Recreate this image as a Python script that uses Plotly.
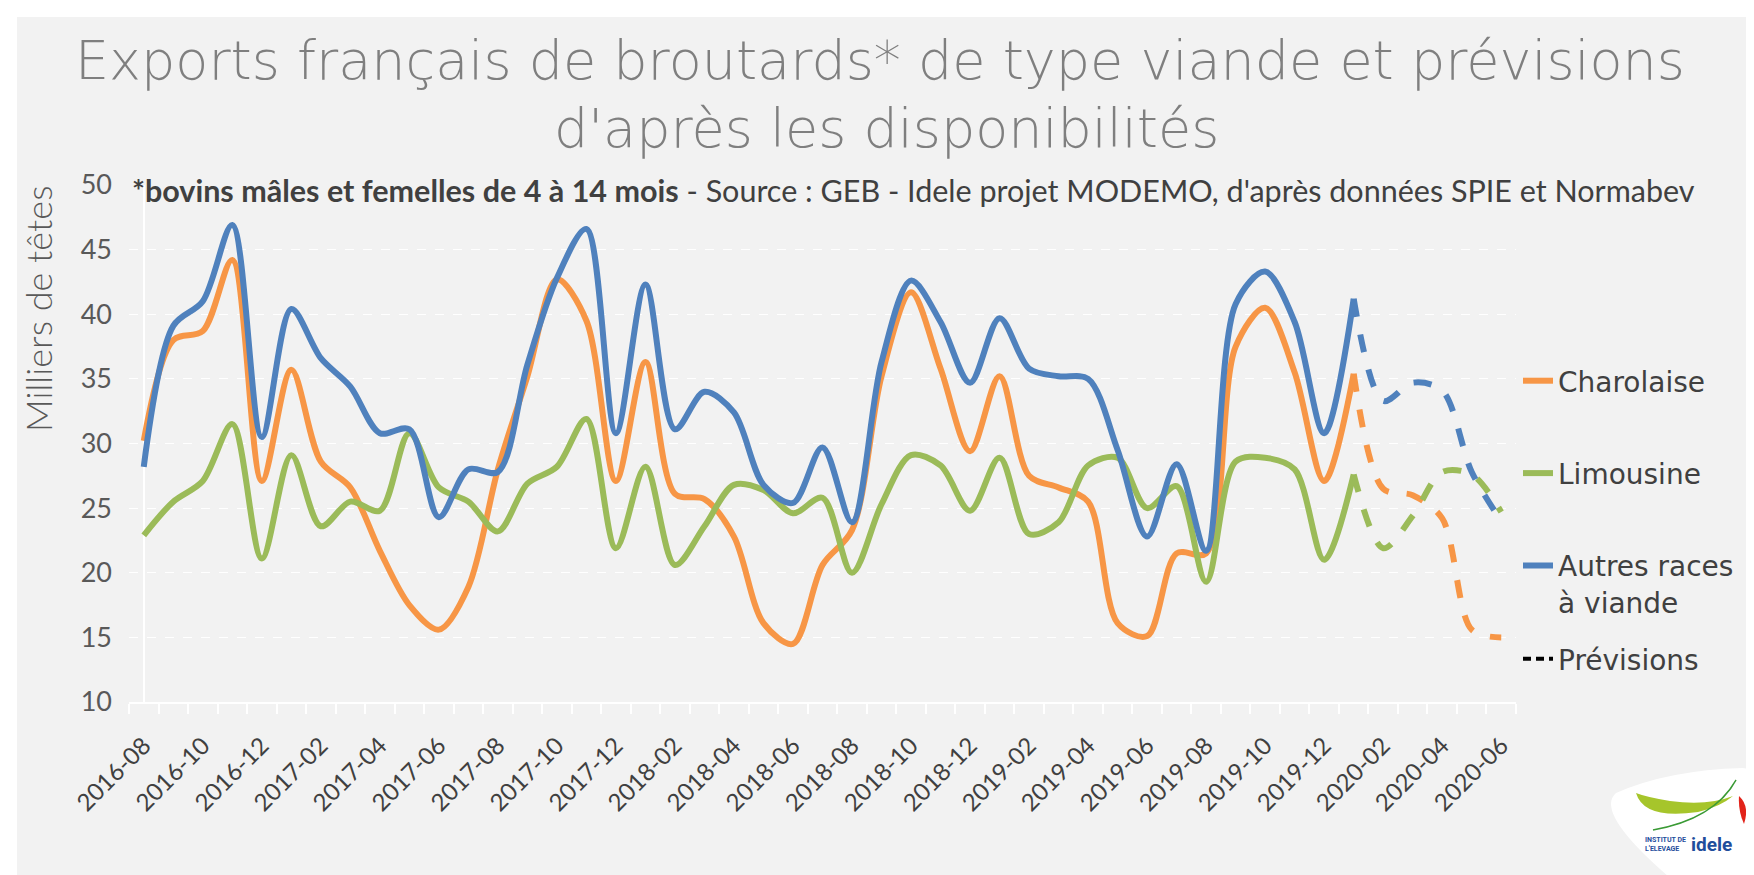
import plotly.graph_objects as go

# ---------------- data ----------------
months = ["2016-08","2016-09","2016-10","2016-11","2016-12",
          "2017-01","2017-02","2017-03","2017-04","2017-05","2017-06","2017-07","2017-08","2017-09","2017-10","2017-11","2017-12",
          "2018-01","2018-02","2018-03","2018-04","2018-05","2018-06","2018-07","2018-08","2018-09","2018-10","2018-11","2018-12",
          "2019-01","2019-02","2019-03","2019-04","2019-05","2019-06","2019-07","2019-08","2019-09","2019-10","2019-11","2019-12",
          "2020-01","2020-02","2020-03","2020-04","2020-05","2020-06"]

charolaise = [30.2, 38.0, 38.7, 44.2, 27.1, 35.7, 28.6, 26.6, 21.7, 17.5, 15.6, 18.9, 28.0, 35.2, 42.7, 39.5, 27.1,
              36.3, 26.1, 25.7, 22.8, 16.1, 14.5, 20.6, 23.3, 35.2, 41.7, 35.8, 29.4,
              35.2, 27.5, 26.6, 25.5, 16.1, 15.1, 21.5, 21.5, 37.5, 40.5, 35.5, 27.1,
              35.4, 26.5, 26.0, 24.2, 15.6, 15.0]
limousine = [22.9, 25.5, 27.1, 31.5, 21.1, 29.1, 23.6, 25.5, 24.8, 30.8, 26.6, 25.5, 23.2, 26.9, 28.2, 31.9, 21.9,
             28.2, 20.6, 23.6, 26.8, 26.4, 24.6, 25.8, 20.0, 25.3, 29.1, 28.3, 24.8,
             28.9, 23.0, 23.9, 28.3, 28.9, 25.0, 26.7, 19.3, 28.6, 28.9, 28.0, 21.0,
             27.6, 21.9, 24.4, 27.8, 27.6, 24.7]
autres = [28.2, 39.1, 41.0, 46.9, 30.5, 40.4, 36.6, 34.4, 30.8, 31.1, 24.3, 28.0, 27.8, 36.1, 42.8, 46.6, 30.8,
          42.3, 31.1, 34.0, 32.4, 26.8, 25.4, 29.7, 23.9, 36.3, 42.6, 39.4, 34.7,
          39.7, 35.8, 35.2, 35.0, 29.5, 22.8, 28.4, 21.7, 40.8, 43.3, 39.4, 30.8,
          41.2, 33.3, 34.7, 34.1, 27.8, 24.0]

series_names = ["Charolaise", "Limousine", "Autres races<br>à viande"]
forecast_label = "Prévisions"
first_forecast = "2020-01"   # forecasts start from this month (dashed)
tick_labels = months[::2]

# ---------------- styling ----------------
colors = ["#F79646", "#9BBB59", "#4F81BD"]
BG = "#F2F2F2"
W, H = 1754, 875
L, R, T, B = 121, 1508, 177, 694


def xp(px):
    return (px - L) / (R - L)


def yp(py):
    return (B - py) / (B - T)


idx = list(range(len(months)))
k = months.index(first_forecast)

fig = go.Figure()
for name, vals, col in zip(series_names, [charolaise, limousine, autres], colors):
    fig.add_trace(go.Scatter(
        x=idx[:k + 1], y=vals[:k + 1], mode="lines", name=name,
        line=dict(color=col, width=6, shape="spline", smoothing=0.9),
        legendgroup=name, showlegend=True, legend="legend",
        hoverinfo="skip"))
    fig.add_trace(go.Scatter(
        x=idx[k:], y=vals[k:], mode="lines", name=name + " (prévision)",
        line=dict(color=col, width=6, shape="spline", smoothing=0.9, dash="dash"),
        legendgroup=name, showlegend=False, hoverinfo="skip"))

fig.add_trace(go.Scatter(
    x=[None], y=[None], mode="lines", name=forecast_label,
    line=dict(color="black", width=4, dash="8px,5px"),
    showlegend=True, legend="legend2"))

LEG_FONT = dict(size=28, color="#404040", family="DejaVu Sans")
fig.update_layout(
    width=W, height=H,
    paper_bgcolor=BG, plot_bgcolor=BG,
    margin=dict(l=L, r=W - R, t=T, b=H - B),
    font=dict(family="Lato", color="#404040"),
    showlegend=True,
    legend=dict(x=xp(1510), xanchor="left", y=yp(348), yanchor="top",
                font=LEG_FONT, tracegroupgap=53, valign="top",
                bgcolor="rgba(0,0,0,0)"),
    legend2=dict(x=xp(1510), xanchor="left", y=yp(626), yanchor="top",
                 font=LEG_FONT, bgcolor="rgba(0,0,0,0)"),
)

fig.update_yaxes(range=[10, 50], dtick=5, tick0=10,
                 showgrid=True, gridcolor="white", griddash="dash", gridwidth=1,
                 zeroline=False, showline=False,
                 tickfont=dict(size=27, color="#595959", family="Lato"),
                 ticklabelstandoff=16)
fig.update_xaxes(range=[-0.5, len(months) - 0.5],
                 tickmode="array", tickvals=idx[::2], ticktext=tick_labels,
                 tickangle=-45, ticks="", showgrid=False,
                 showline=True, linecolor="white", linewidth=2,
                 tickfont=dict(size=24, color="#404040", family="Lato"),
                 ticklabelstandoff=18,
                 minor=dict(tickmode="array", tickvals=[i - 0.5 for i in range(len(months) + 1)],
                            ticks="outside", ticklen=10, tickcolor="white", tickwidth=1.5,
                            showgrid=False))

# ---------------- texts ----------------
title_font = dict(family="DejaVu Sans", size=54, color="#7F7F7F", weight=200)
fig.add_annotation(text="Exports français de broutards* de type viande et prévisions",
                   xref="paper", yref="paper", x=xp(872), y=yp(53),
                   xanchor="center", yanchor="middle", showarrow=False, font=title_font)
fig.add_annotation(text="d'après les disponibilités",
                   xref="paper", yref="paper", x=xp(878), y=yp(120),
                   xanchor="center", yanchor="middle", showarrow=False, font=title_font)
fig.add_annotation(text="<b>*bovins mâles et femelles de 4 à 14 mois</b> - Source : GEB - Idele projet MODEMO, d'après données SPIE et Normabev",
                   xref="paper", yref="paper", x=xp(122), y=yp(182),
                   xanchor="left", yanchor="middle", showarrow=False,
                   font=dict(family="Lato", size=30.5, color="#404040"))
fig.add_annotation(text="Milliers de têtes", textangle=-90,
                   xref="paper", yref="paper", x=xp(30), y=yp(301),
                   xanchor="center", yanchor="middle", showarrow=False,
                   font=dict(family="Lato", size=36, color="#595959", weight=300))

# ---------------- frame & logo ----------------
shapes = []
shapes.append(dict(type="rect", xref="paper", yref="paper", x0=xp(0), x1=xp(W), y0=yp(0), y1=yp(9),
                   fillcolor="white", line=dict(width=0), layer="below"))
shapes.append(dict(type="rect", xref="paper", yref="paper", x0=xp(0), x1=xp(9), y0=yp(0), y1=yp(H),
                   fillcolor="white", line=dict(width=0), layer="below"))


def pth(points_cmds):
    out = []
    for c, pts in points_cmds:
        coords = " ".join(f"{xp(a):.5f},{yp(b):.5f}" for a, b in pts)
        out.append(f"{c} {coords}")
    return " ".join(out) + " Z"


blob = pth([("M", [(1668, 875)]),
            ("Q", [(1585, 805), (1608, 785)]),
            ("Q", [(1660, 762), (1735, 760)]),
            ("Q", [(1760, 762), (1754, 800)]),
            ("L", [(1754, 875)])])
shapes.append(dict(type="path", xref="paper", yref="paper", path=blob,
                   fillcolor="white", line=dict(width=0)))
leaf = pth([("M", [(1628, 785)]),
            ("Q", [(1636, 812), (1690, 804)]),
            ("Q", [(1712, 799), (1725, 788)]),
            ("Q", [(1700, 798), (1662, 793)]),
            ("Q", [(1638, 789), (1628, 785)])])
shapes.append(dict(type="path", xref="paper", yref="paper", path=leaf,
                   fillcolor="#A6C52B", line=dict(width=0)))
swoosh = pth([("M", [(1645, 822)]),
              ("Q", [(1705, 812), (1728, 772)]),
              ("Q", [(1708, 810), (1645, 822)])])
shapes.append(dict(type="path", xref="paper", yref="paper", path=swoosh,
                   fillcolor="#3A9A35", line=dict(color="#3A9A35", width=1.5)))
drop = pth([("M", [(1731, 788)]),
            ("Q", [(1742, 798), (1736, 816)]),
            ("Q", [(1730, 803), (1731, 788)])])
shapes.append(dict(type="path", xref="paper", yref="paper", path=drop,
                   fillcolor="#E2231A", line=dict(width=0)))
fig.update_layout(shapes=shapes)

fig.add_annotation(text="<b>INSTITUT DE<br>L'ELEVAGE</b>", xref="paper", yref="paper",
                   x=xp(1680), y=yp(836), xanchor="right", yanchor="middle", showarrow=False,
                   font=dict(family="Roboto", size=7, color="#1F4E9C"), align="left")
fig.add_annotation(text="<b>idele</b>", xref="paper", yref="paper",
                   x=xp(1681), y=yp(836), xanchor="left", yanchor="middle", showarrow=False,
                   font=dict(family="Roboto", size=19, color="#1F4E9C"))

fig.write_html("out.html")
